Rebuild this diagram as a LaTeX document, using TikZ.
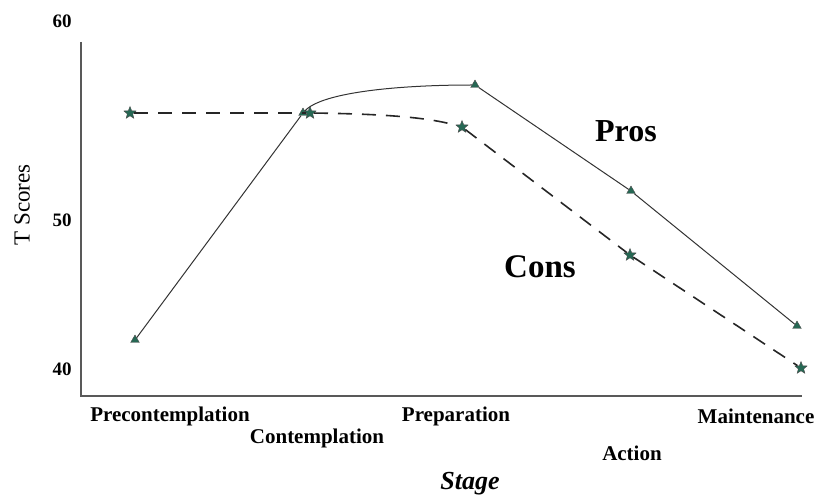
\documentclass[tikz,border=0pt]{standalone}
\usepackage{fontspec}
\setmainfont{Liberation Serif}
\usetikzlibrary{shapes.geometric}
\definecolor{markgreen}{RGB}{38,104,84}

\begin{document}
\begin{tikzpicture}[x=1pt,y=-1pt]
    \tikzstyle{prosmark} = [regular polygon, regular polygon sides=3, minimum size=10pt, inner sep=0pt, fill=markgreen, draw=black!70, line width=0.4pt]
    \tikzstyle{consmark} = [star, star points=5, star point ratio=2.3, minimum size=13pt, inner sep=0pt, fill=markgreen, draw=black!70, line width=0.4pt]
    \tikzstyle{prosline} = [draw=black!80, line width=1pt]
    \tikzstyle{consline} = [draw=black!85, line width=1.6pt, dash pattern=on 14pt off 10pt]
    \tikzstyle{stagelabel} = [font=\fontsize{21}{23}\selectfont\bfseries]
    \tikzstyle{ticklabel} = [font=\fontsize{19}{21}\selectfont\bfseries]

    \useasboundingbox (0,0) rectangle (823,497);

    % axes
    \coordinate (ytop) at (81,42);
    \coordinate (origin) at (81,396);
    \coordinate (xend) at (802,396);
    \draw [black!65, line width=1.3pt] (ytop) -- (origin) -- (xend);

    \node (tick60) [ticklabel] at (62,21) {60};
    \node (tick50) [ticklabel] at (62,220) {50};
    \node (tick40) [ticklabel] at (62,369) {40};
    \node (ytitle) [rotate=90, font=\fontsize{23}{25}\selectfont] at (22,205) {T Scores};

    % pros
    \node (pre)   [prosmark] at (135,340) {};
    \node (cont)  [prosmark] at (303,113) {};
    \node (prep)  [prosmark] at (475,85) {};
    \node (act)   [prosmark] at (631,191) {};
    \node (maint) [prosmark] at (797,326) {};

    % cons
    \node (cpre)   [consmark] at (130,113) {};
    \node (ccont)  [consmark] at (310,113) {};
    \node (cprep)  [consmark] at (462,127) {};
    \node (cact)   [consmark] at (630,255) {};
    \node (cmaint) [consmark] at (801,368) {};

    \draw [prosline] (pre) -- (cont);
    \draw [prosline] (cont) .. controls (322,92) and (400,85) .. (prep);
    \draw [prosline] (prep) -- (act);
    \draw [prosline] (act) -- (maint);

    \draw [consline] (cpre) -- (ccont);
    \draw [consline] (ccont) .. controls (390,114) and (430,118) .. (cprep);
    \draw [consline] (cprep) -- (cact);
    \draw [consline] (cact) -- (cmaint);

    \node (pros) [font=\fontsize{32}{34}\selectfont\bfseries] at (626,131) {Pros};
    \node (cons) [font=\fontsize{33}{35}\selectfont\bfseries] at (540,267) {Cons};

    % stage names
    \node (lpre)   [stagelabel] at (170,416) {Precontemplation};
    \node (lcont)  [stagelabel] at (317,438) {Contemplation};
    \node (lprep)  [stagelabel] at (456,416) {Preparation};
    \node (lact)   [stagelabel] at (632,453) {Action};
    \node (lmaint) [stagelabel] at (756,416) {Maintenance};
    \node (xtitle) [font=\fontsize{26}{28}\selectfont\bfseries\itshape] at (470,484) {Stage};
\end{tikzpicture}
\end{document}
